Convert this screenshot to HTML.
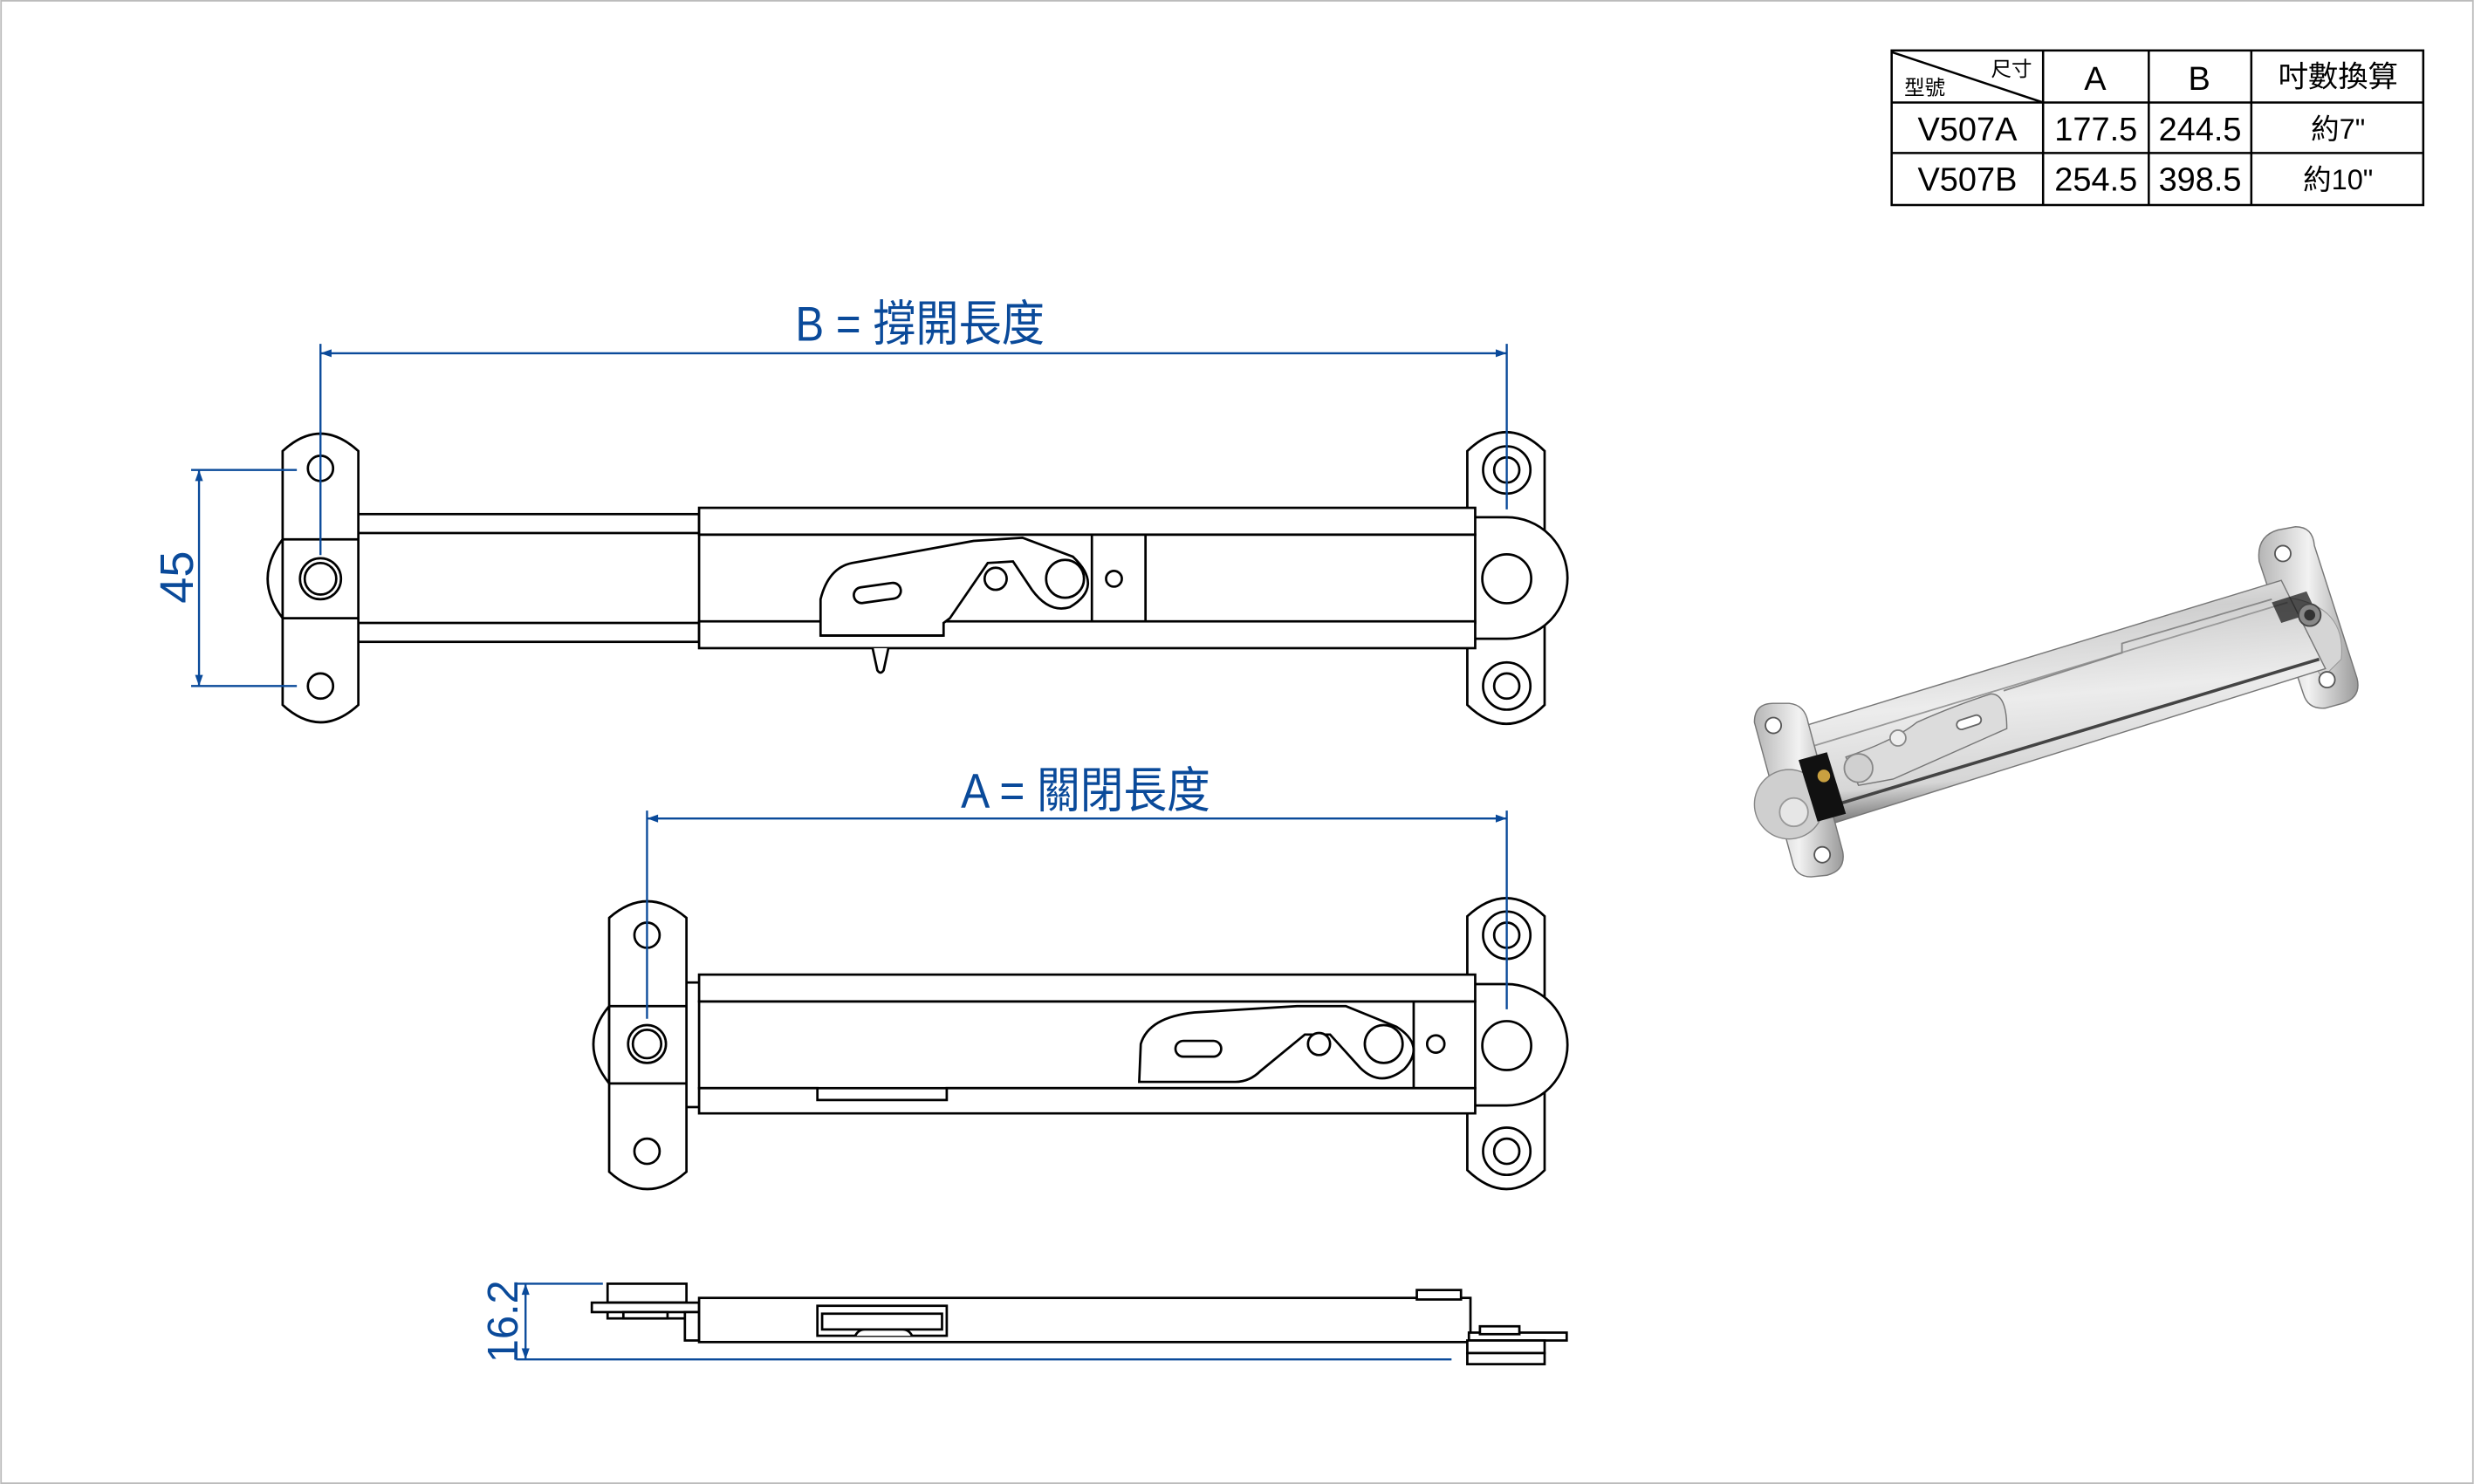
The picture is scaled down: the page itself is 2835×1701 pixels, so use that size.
<!DOCTYPE html>
<html><head><meta charset="utf-8"><style>
html,body{margin:0;padding:0;background:#fff;}
svg{display:block;}
</style></head><body>
<svg width="2835" height="1701" viewBox="0 0 1568 941" xmlns="http://www.w3.org/2000/svg">
<defs>
<linearGradient id="mg" x1="0" y1="0" x2="0.2" y2="1">
<stop offset="0" stop-color="#f6f6f6"/><stop offset="0.25" stop-color="#cfcfcf"/><stop offset="0.55" stop-color="#ececec"/><stop offset="0.85" stop-color="#d6d6d6"/><stop offset="1" stop-color="#6a6a6a"/>
</linearGradient>
<linearGradient id="pg" x1="0" y1="0" x2="1" y2="0">
<stop offset="0" stop-color="#b5b5b5"/><stop offset="0.5" stop-color="#f2f2f2"/><stop offset="1" stop-color="#9a9a9a"/>
</linearGradient>
</defs>
<rect x="0.5" y="0.5" width="1567" height="940" fill="#fff" stroke="#bbb" stroke-width="1"/>

<!-- TABLE -->
<g stroke="#000" stroke-width="1.4" fill="none">
<rect x="1199" y="32" width="337" height="98"/>
<line x1="1199" y1="65" x2="1536" y2="65"/>
<line x1="1199" y1="97" x2="1536" y2="97"/>
<line x1="1295" y1="32" x2="1295" y2="130"/>
<line x1="1362" y1="32" x2="1362" y2="130"/>
<line x1="1427" y1="32" x2="1427" y2="130"/>
<line x1="1199" y1="33" x2="1295" y2="65"/>
</g>
<g font-family="Liberation Sans, Noto Sans CJK TC, sans-serif" fill="#000" text-anchor="middle">
<text x="1275" y="48" font-size="13">尺寸</text>
<text x="1220" y="60" font-size="13">型號</text>
<text x="1328" y="57" font-size="21">A</text>
<text x="1394" y="57" font-size="21">B</text>
<text x="1482" y="55" font-size="19">吋數換算</text>
<text x="1247" y="89" font-size="21">V507A</text>
<text x="1328.5" y="89" font-size="21">177.5</text>
<text x="1394.5" y="89" font-size="21">244.5</text>
<text x="1482" y="88" font-size="18">約7"</text>
<text x="1247" y="121" font-size="21">V507B</text>
<text x="1328.5" y="121" font-size="21">254.5</text>
<text x="1394.5" y="121" font-size="21">398.5</text>
<text x="1482" y="120" font-size="18">約10"</text>
</g>

<!-- TOP DRAWING (B) -->
<g stroke="#000" stroke-width="1.5" fill="#fff">
<rect x="227" y="326" width="216" height="12"/>
<rect x="227" y="395" width="216" height="12"/>
<path d="M179,342 Q160,367 179,392 Z"/>
<path d="M179,286 Q203,264 227,286 L227,447 Q203,469 179,447 Z"/>
<line x1="179" y1="342" x2="227" y2="342"/>
<line x1="179" y1="392" x2="227" y2="392"/>
<circle cx="203" cy="297" r="8"/>
<circle cx="203" cy="367" r="13"/>
<circle cx="203" cy="367" r="10"/>
<circle cx="203" cy="435" r="8"/>
<path d="M930,286 Q955,262 979,286 L979,447 Q955,471 930,447 Z"/>
<path d="M923,328 L955,328 A38.5,38.5 0 0 1 955,405 L923,405 Z"/>
<circle cx="955" cy="298" r="15"/><circle cx="955" cy="298" r="8"/>
<circle cx="955" cy="435" r="15"/><circle cx="955" cy="435" r="8"/>
<circle cx="955" cy="367" r="15.5"/>
<rect x="443" y="339" width="492" height="56"/>
<rect x="443" y="322" width="492" height="17"/>
<rect x="443" y="394" width="492" height="17"/>
<line x1="692" y1="339" x2="692" y2="394"/>
<line x1="726" y1="339" x2="726" y2="394"/>
<circle cx="706" cy="367" r="5"/>
<path d="M553,411 L556,425 Q558,428 560,425 L563,411" />
<path d="M520,403 L520,380 Q525,360 540,357 L617,343 L648,341 L680,353 Q700,372 678,385 Q665,389 654,374 L642,356 L626,357 L602,392 L598,395 L598,403 Z"/>
<circle cx="675" cy="367" r="12"/>
<circle cx="631" cy="367" r="7"/>
<rect x="541" y="371" width="30" height="10" rx="5" transform="rotate(-8 556 376)"/>
</g>
<line x1="520" y1="403" x2="598" y2="403" stroke="#000" stroke-width="1.5"/>

<!-- B dimension -->
<g stroke="#0a4a9a" stroke-width="1.3" fill="none">
<line x1="203" y1="218" x2="203" y2="352"/>
<line x1="955" y1="218" x2="955" y2="323"/>
<line x1="203" y1="224" x2="955" y2="224"/>
<line x1="121" y1="298" x2="188" y2="298"/>
<line x1="121" y1="435" x2="188" y2="435"/>
<line x1="126" y1="298" x2="126" y2="435"/>
</g>
<g fill="#0a4a9a">
<path d="M203,224 l7,-2.5 v5 z"/><path d="M955,224 l-7,-2.5 v5 z"/>
<path d="M126,298 l-2.5,7 h5 z"/><path d="M126,435 l-2.5,-7 h5 z"/>
</g>
<g font-family="Liberation Sans, Noto Sans CJK TC, sans-serif" fill="#0a4a9a">
<text x="504" y="216" font-size="31" textLength="158" lengthAdjust="spacingAndGlyphs">B = 撐開長度</text>
<text x="609" y="512" font-size="31" textLength="158" lengthAdjust="spacingAndGlyphs">A = 關閉長度</text>
<text transform="translate(122,366) rotate(-90)" font-size="30" text-anchor="middle">45</text>
<text transform="translate(328,838) rotate(-90)" font-size="27" text-anchor="middle">16.2</text>
</g>

<!-- A DRAWING -->
<g stroke="#000" stroke-width="1.5" fill="#fff">
<line x1="435" y1="623" x2="443" y2="623"/>
<line x1="435" y1="702" x2="443" y2="702"/>
<path d="M386,638 Q366,662 386,687 Z"/>
<path d="M386,582 Q410,561 435,582 L435,743 Q410,765 386,743 Z"/>
<line x1="386" y1="638" x2="435" y2="638"/>
<line x1="386" y1="687" x2="435" y2="687"/>
<circle cx="410" cy="593" r="8"/>
<circle cx="410" cy="662" r="12"/><circle cx="410" cy="662" r="9"/>
<circle cx="410" cy="730" r="8"/>
<path d="M930,581 Q955,558 979,581 L979,742 Q955,766 930,742 Z"/>
<path d="M923,624 L955,624 A38.5,38.5 0 0 1 955,701 L923,701 Z"/>
<circle cx="955" cy="593" r="15"/><circle cx="955" cy="593" r="8"/>
<circle cx="955" cy="730" r="15"/><circle cx="955" cy="730" r="8"/>
<circle cx="955" cy="663" r="15.5"/>
<rect x="443" y="635" width="492" height="55"/>
<rect x="443" y="618" width="492" height="17"/>
<path d="M443,690 L518,690 L518,697.5 L600,697.5 L600,690 L935,690 L935,706 L443,706 Z"/>
<line x1="896" y1="635" x2="896" y2="690"/>
<circle cx="910" cy="662" r="5.5"/>
<path d="M722,686 L723,662 Q728,645 757,642 L822,638 L853,638 L885,651 Q904,663 890,678 Q875,690 862,677 L843,656 L827,656 L799,679 Q792,686 783,686 Z"/>
<circle cx="877" cy="662" r="12"/>
<circle cx="836" cy="662" r="7"/>
<rect x="745" y="660" width="29" height="10" rx="5"/>
</g>
<g stroke="#0a4a9a" stroke-width="1.3" fill="none">
<line x1="410" y1="514" x2="410" y2="646"/>
<line x1="955" y1="514" x2="955" y2="640"/>
<line x1="410" y1="519" x2="955" y2="519"/>
</g>
<g fill="#0a4a9a"><path d="M410,519 l7,-2.5 v5 z"/><path d="M955,519 l-7,-2.5 v5 z"/></g>

<!-- SIDE VIEW -->
<g stroke="#000" stroke-width="1.5" fill="#fff">
<rect x="385" y="814" width="50" height="12"/>
<rect x="385" y="826" width="50" height="10"/>
<rect x="375" y="826" width="68" height="6"/>
<rect x="395" y="832" width="28" height="4"/>
<rect x="434" y="832" width="9" height="18"/>
<rect x="443" y="823" width="489" height="28"/>
<rect x="898" y="818" width="28" height="6"/>
<rect x="518" y="828" width="82" height="19"/>
<rect x="521" y="833" width="76" height="10"/>
<path d="M542,847 Q544,843 548,843 L572,843 Q576,843 578,847"/>
<rect x="931" y="845" width="62" height="5"/>
<rect x="938" y="841" width="25" height="5"/>
<rect x="930" y="850" width="49" height="8"/>
<rect x="930" y="858" width="49" height="7"/>
</g>
<g stroke="#0a4a9a" stroke-width="1.3" fill="none">
<line x1="327" y1="814" x2="382" y2="814"/>
<line x1="327" y1="862" x2="920" y2="862"/>
<line x1="333" y1="814" x2="333" y2="862"/>
</g>
<g fill="#0a4a9a"><path d="M333,814 l-2.5,7 h5 z"/><path d="M333,862 l-2.5,-7 h5 z"/></g>

<!-- PHOTO -->
<g>
<path d="M1432,356 Q1430,340 1444,336 L1455,334 Q1466,334 1467,346 L1494,430 Q1497,442 1485,446 L1474,449 Q1463,450 1460,440 Z" fill="url(#pg)" stroke="#777" stroke-width="0.8"/>
<path d="M1440,378 Q1488,380 1484,418 L1472,430 Z" fill="#d5d5d5" stroke="#999" stroke-width="0.6"/>
<path d="M1138,462 L1446,368 L1474,424 L1162,522 Z" fill="url(#mg)" stroke="#777" stroke-width="0.8"/>
<path d="M1146,474 L1450,382" stroke="#999" stroke-width="1"/>
<path d="M1158,512 L1470,418" stroke="#444" stroke-width="2"/>
<path d="M1270,438 L1345,414 L1345,408 L1440,380" stroke="#888" stroke-width="1" fill="none"/>
<path d="M1112,458 Q1112,446 1124,446 L1134,446 Q1144,447 1146,458 L1168,540 Q1170,552 1158,555 L1148,556 Q1138,556 1136,546 Z" fill="url(#pg)" stroke="#777" stroke-width="0.8"/>
<circle cx="1134" cy="510" r="22" fill="#cfcfcf" stroke="#888" stroke-width="0.8"/>
<circle cx="1137" cy="515" r="9" fill="#e6e6e6" stroke="#999"/>
<path d="M1140,482 L1158,477 L1170,516 L1152,521 Z" fill="#111"/>
<circle cx="1156" cy="492" r="4" fill="#c9a040"/>
<path d="M1170,480 Q1200,470 1215,458 Q1240,447 1262,440 Q1272,440 1272,462 L1200,494 L1178,498 Z" fill="#dcdcdc" stroke="#777" stroke-width="0.8"/>
<circle cx="1178" cy="487" r="9" fill="#d0d0d0" stroke="#888"/>
<circle cx="1203" cy="468" r="5" fill="#eee" stroke="#888"/>
<rect x="1240" y="455" width="16" height="6" rx="3" fill="#fff" stroke="#666" transform="rotate(-18 1248 458)"/>
<circle cx="1124" cy="460" r="5" fill="#fff" stroke="#555"/>
<circle cx="1155" cy="542" r="5" fill="#fff" stroke="#555"/>
<circle cx="1447" cy="351" r="5" fill="#fff" stroke="#555"/>
<circle cx="1475" cy="431" r="5" fill="#fff" stroke="#555"/>
<path d="M1440,382 L1462,375 L1468,388 L1446,395 Z" fill="#111" opacity="0.7"/>
<circle cx="1464" cy="390" r="7" fill="#888" stroke="#444"/>
<circle cx="1464" cy="390" r="3.5" fill="#333"/>
</g>
</svg>
</body></html>
